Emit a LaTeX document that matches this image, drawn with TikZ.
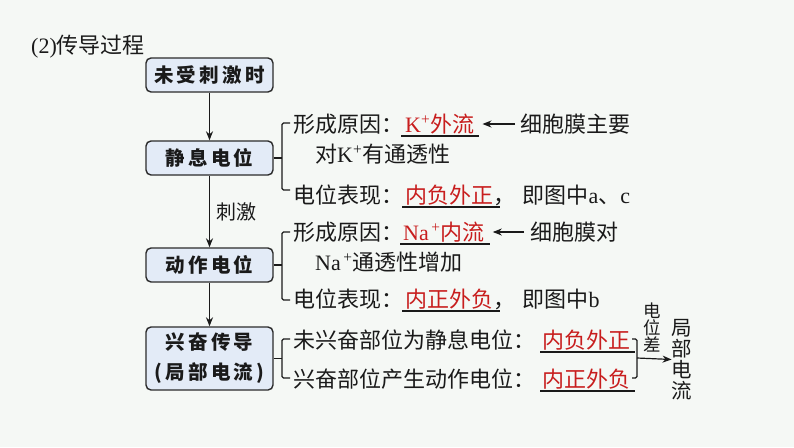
\documentclass[tikz,border=0pt]{standalone}
\usepackage{fontspec}
\setmainfont{Liberation Serif}
\newfontfamily\cjk{Noto Sans CJK SC}
\usetikzlibrary{arrows.meta}
\definecolor{bg}{HTML}{F5F8F5}
\definecolor{boxfill}{HTML}{E3EBF7}
\definecolor{boxline}{HTML}{2B2B2B}
\definecolor{ink}{HTML}{1A1A1A}
\definecolor{cred}{HTML}{C81E1E}
\begin{document}
\begin{tikzpicture}[x=1pt,y=-1pt,
  stepbox/.style={draw=boxline, line width=1.4pt, fill=boxfill, rounded corners=5pt,
    minimum width=127pt, inner sep=0pt, text=ink, align=center,
    font=\fontsize{19.5}{30}\selectfont\cjk\bfseries},
  txt/.style={anchor=base west, inner sep=0pt, text=ink, font=\fontsize{22}{22}\selectfont},
  redtxt/.style={txt, text=cred},
  conn/.style={draw=ink, line width=1.2pt},
  arr/.style={conn, -{Stealth[length=9pt,width=7pt]}},
  brk/.style={conn, rounded corners=1.5pt},
  uline/.style={draw=ink, line width=1.3pt}
]
\fill[bg] (0,0) rectangle (794,447);
\useasboundingbox (0,0) rectangle (794,447);

% title
\node[txt] (title) at (31,53) {\fontsize{22}{22}\selectfont(2){\cjk 传导过程}};

% boxes
\node[stepbox, minimum height=34pt] (b1) at (209.5,75) {未\,受\,刺\,激\,时};
\node[stepbox, minimum height=34pt] (b2) at (209.5,158) {静\,息\,电\,位};
\node[stepbox, minimum height=34pt] (b3) at (209.5,265) {动\,作\,电\,位};
\node[stepbox, minimum height=63pt] (b4) at (209.5,358.5)
  {兴\,奋\,传\,导\\\makebox[0pt][r]{(\,}局\,部\,电\,流\makebox[0pt][l]{\,)}};

\draw[arr] (b1) -- (b2);
\draw[arr] (b2) -- (b3);
\draw[arr] (b3) -- (b4);
\node[inner sep=0pt, text=ink, font=\fontsize{20}{20}\selectfont\cjk] (stim) at (236,212) {刺激};

% group 1
\coordinate (g1t) at (290,123);
\coordinate (g1b) at (290,190);
\draw[conn] (b2.east) -- ++(8.5,0);
\draw[brk] (g1t) -- ++(-8,0) |- (g1b);
\node[txt] (a1) at (293,132) {\cjk 形成原因：};
\node[redtxt] (a1r) at (405,132) {K\textsuperscript{+}{\cjk 外流}};
\draw[uline] ([shift={(-4pt,-4pt)}]a1r.base west) -- ([shift={(5pt,-4pt)}]a1r.base east);
\node[txt] (a1n) at (520,132) {\cjk 细胞膜主要};
\draw[arr] ([shift={(-5pt,8pt)}]a1n.base west) -- ([shift={(8pt,8pt)}]a1r.base east);
\node[txt] (a2) at (315,162) {{\cjk 对}K\textsuperscript{+}{\cjk 有通透性}};
\node[txt] (a3) at (293,203) {\cjk 电位表现：};
\node[redtxt] (a3r) at (405,203) {\cjk 内负外正};
\draw[uline] ([shift={(-3pt,-4pt)}]a3r.base west) -- ([shift={(7pt,-4pt)}]a3r.base east);
\node[txt] (a3n) at (a3r.base east) {{\cjk ，\hspace{7pt}即图中}a{\cjk 、}c};

% group 2
\coordinate (g2t) at (290,232);
\coordinate (g2b) at (290,300);
\draw[conn] (b3.east) -- ++(8.5,0);
\draw[brk] (g2t) -- ++(-8,0) |- (g2b);
\node[txt] (c1) at (293,240) {\cjk 形成原因：};
\node[redtxt] (c1r) at (403,240) {Na\textsuperscript{\,+}{\cjk 内流}};
\draw[uline] ([shift={(-3pt,-4pt)}]c1r.base west) -- ([shift={(5pt,-4pt)}]c1r.base east);
\node[txt] (c1n) at (530,240) {\cjk 细胞膜对};
\draw[arr] ([shift={(-6pt,8pt)}]c1n.base west) -- ([shift={(8pt,8pt)}]c1r.base east);
\node[txt] (c2) at (315,270) {Na\textsuperscript{\,+}{\cjk 通透性增加}};
\node[txt] (c3) at (293,307) {\cjk 电位表现：};
\node[redtxt] (c3r) at (405,307) {\cjk 内正外负};
\draw[uline] ([shift={(-3pt,-4pt)}]c3r.base west) -- ([shift={(7pt,-4pt)}]c3r.base east);
\node[txt] (c3n) at (c3r.base east) {{\cjk ，\hspace{7pt}即图中}b};

% group 3
\coordinate (g3t) at (290,339);
\coordinate (g3b) at (290,378);
\draw[conn] (b4.east) -- ++(8.5,0);
\draw[brk] (g3t) -- ++(-8,0) |- (g3b);
\node[txt] (e1) at (293,348) {\cjk 未兴奋部位为静息电位：};
\node[redtxt] (e1r) at (542,348) {\cjk 内负外正};
\draw[uline] ([shift={(-2pt,-4pt)}]e1r.base west) -- ([shift={(5pt,-4pt)}]e1r.base east);
\node[txt] (e2) at (293,387) {\cjk 兴奋部位产生动作电位：};
\node[redtxt] (e2r) at (542,387) {\cjk 内正外负};
\draw[uline] ([shift={(-2pt,-4pt)}]e2r.base west) -- ([shift={(5pt,-4pt)}]e2r.base east);

% right bracket and arrow
\coordinate (rt) at (632,339);
\coordinate (rb) at (632,378);
\coordinate (rm) at (637,358);
\draw[brk] (rt) -- ++(5,0) |- (rb);
\node[inner sep=0pt, text=ink, align=center, font=\fontsize{17.5}{17}\selectfont\cjk] (diff) at (652,327.5) {电\\位\\差};
\node[inner sep=0pt, text=ink, align=center, font=\fontsize{20.5}{21}\selectfont\cjk] (local) at (682,359.5) {局\\部\\电\\流};
\draw[arr] (rm) -- (local.west);
\end{tikzpicture}
\end{document}
